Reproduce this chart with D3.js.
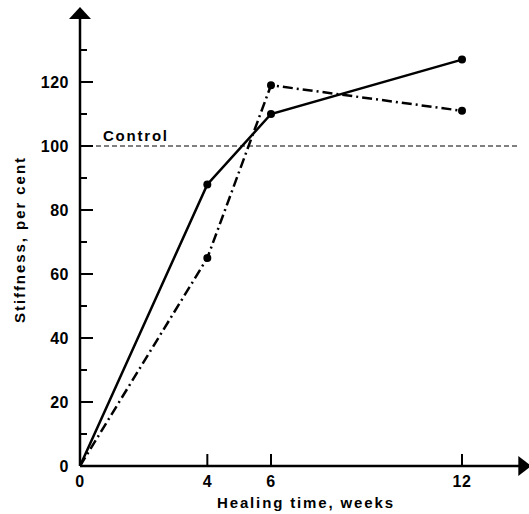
<!DOCTYPE html>
<html><head><meta charset="utf-8">
<script src="https://cdn.jsdelivr.net/npm/d3@7"></script>
<style>body{margin:0;background:#fff}svg{display:block}text{font-family:"Liberation Sans",Arial,sans-serif;font-weight:bold;fill:#000}</style>
</head><body><svg id="c" width="529" height="514"></svg>
<script>
const weeks = [0, 4, 6, 12];
const seriesSolid = [0, 88, 110, 127];
const seriesDashDot = [0, 65, 119, 111];
const controlValue = 100;
const xTickValues = [0, 4, 6, 12];
const yMajorTicks = [0, 20, 40, 60, 80, 100, 120];
const yMinorTicks = [10, 30, 50, 70, 90, 110, 130];
const xLabel = "Healing time, weeks";
const yLabel = "Stiffness, per cent";
const controlLabel = "Control";

const svg = d3.select("#c");
const x = d3.scaleLinear().domain([0, 12]).range([80, 462]);
const y = d3.scaleLinear().domain([0, 120]).range([466, 82]);
const xEnd = 13.8, yEnd = 140;

// control line
svg.append("line").attr("x1", x(0)).attr("x2", x(xEnd)).attr("y1", y(controlValue)).attr("y2", y(controlValue))
  .attr("stroke", "#000").attr("stroke-width", 1).attr("stroke-dasharray", "5,3");
svg.append("text").attr("x", x(0) + 23).attr("y", y(controlValue) - 5).attr("font-size", 15)
  .attr("textLength", 64).attr("lengthAdjust", "spacing").text(controlLabel);

// axes lines
svg.append("line").attr("x1", x(0)).attr("x2", x(0)).attr("y1", y(0)).attr("y2", y(yEnd)).attr("stroke", "#000").attr("stroke-width", 2.5);
svg.append("line").attr("x1", x(0)).attr("x2", x(xEnd)).attr("y1", y(0)).attr("y2", y(0)).attr("stroke", "#000").attr("stroke-width", 2.5);
// arrows
const ax = x(0), ay = y(yEnd);
svg.append("path").attr("d", `M${ax},${ay-11}L${ax+11},${ay+1}L${ax-11},${ay+1}Z`).attr("fill", "#000");
const bx = x(xEnd), by = y(0);
svg.append("path").attr("d", `M${bx+12},${by}L${bx-1},${by-10}L${bx-1},${by+10}Z`).attr("fill", "#000");

// y ticks (inside, to the right)
const yAxis = svg.append("g");
yAxis.selectAll(".maj").data(yMajorTicks.filter(d => d > 0)).join("line")
  .attr("x1", x(0)).attr("x2", x(0) + 13).attr("y1", d => y(d)).attr("y2", d => y(d)).attr("stroke", "#000").attr("stroke-width", 2);
yAxis.selectAll(".min").data(yMinorTicks).join("line")
  .attr("x1", x(0)).attr("x2", x(0) + 7).attr("y1", d => y(d)).attr("y2", d => y(d)).attr("stroke", "#000").attr("stroke-width", 2);
yAxis.selectAll("text").data(yMajorTicks).join("text")
  .attr("x", x(0) - 11).attr("y", d => y(d)).attr("dy", "0.36em").attr("text-anchor", "end").attr("font-size", 16)
  .attr("letter-spacing", 0.5).text(d => d);

// x ticks (upward)
const xAxis = svg.append("g");
xAxis.selectAll("line").data(xTickValues.filter(d => d > 0)).join("line")
  .attr("x1", d => x(d)).attr("x2", d => x(d)).attr("y1", y(0)).attr("y2", y(0) - 12).attr("stroke", "#000").attr("stroke-width", 2);
xAxis.selectAll("text").data(xTickValues).join("text")
  .attr("x", d => x(d)).attr("y", y(0) + 21).attr("text-anchor", "middle").attr("font-size", 16).attr("letter-spacing", 0.5).text(d => d);

svg.append("text").attr("x", 217).attr("y", 508).attr("font-size", 15)
  .attr("textLength", 176).attr("lengthAdjust", "spacing").text(xLabel);
svg.append("text").attr("transform", `translate(25,323) rotate(-90)`).attr("font-size", 15)
  .attr("textLength", 165).attr("lengthAdjust", "spacing").text(yLabel);

// series
const line = d3.line().x((d, i) => x(weeks[i])).y(d => y(d));
svg.append("path").attr("d", line(seriesDashDot)).attr("fill", "none").attr("stroke", "#000").attr("stroke-width", 2.5).attr("stroke-dasharray", "10,4,2,4");
svg.append("path").attr("d", line(seriesSolid)).attr("fill", "none").attr("stroke", "#000").attr("stroke-width", 2.5);
[seriesSolid, seriesDashDot].forEach(s => {
  svg.append("g").selectAll("circle").data(s.slice(1)).join("circle")
    .attr("cx", (d, i) => x(weeks[i + 1])).attr("cy", d => y(d)).attr("r", 4).attr("fill", "#000");
});
</script></body></html>
